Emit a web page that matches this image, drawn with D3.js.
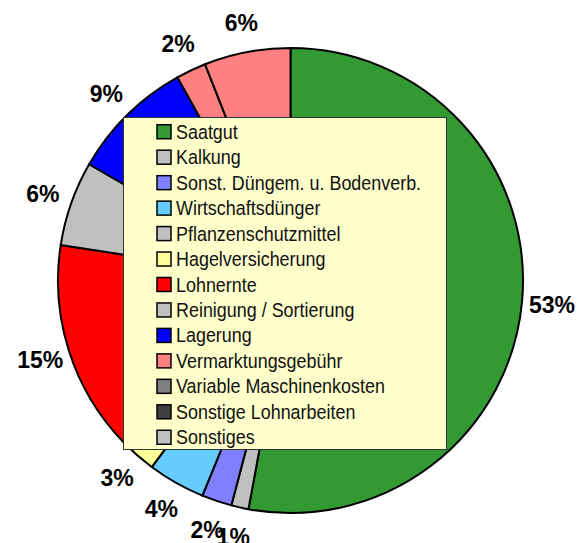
<!DOCTYPE html>
<html>
<head>
<meta charset="utf-8">
<script src="https://cdn.jsdelivr.net/npm/d3@7"></script>
<style>
  html, body { margin: 0; padding: 0; background: #fff; }
  svg { display: block; }
</style>
</head>
<body>
<svg id="chart" width="585" height="543"></svg>
<script>
const categories = [
  "Saatgut", "Kalkung", "Sonst. Düngem. u. Bodenverb.", "Wirtschaftsdünger",
  "Pflanzenschutzmittel", "Hagelversicherung", "Lohnernte", "Reinigung / Sortierung",
  "Lagerung", "Vermarktungsgebühr", "Variable Maschinenkosten",
  "Sonstige Lohnarbeiten", "Sonstiges"
];
const values = [53.0, 1.2, 2.1, 4.0, 0, 2.6, 14.7, 5.9, 8.6, 2.1, 6.0, 0, 0];
const percentLabels = ["53%", "1%", "2%", "4%", "", "3%", "15%", "6%", "9%", "2%", "6%", "", ""];
const legendColors = ["#339933", "#C0C0C0", "#8080FF", "#66CCFF", "#C0C0C0", "#FFFF99",
  "#FF0000", "#C0C0C0", "#0000FF", "#FF8080", "#808080", "#404040", "#C0C0C0"];
const sliceColors = ["#339933", "#C0C0C0", "#8080FF", "#66CCFF", "#C0C0C0", "#FFFF99",
  "#FF0000", "#C0C0C0", "#0000FF", "#FF8080", "#FF8080", "#404040", "#C0C0C0"];

const svg = d3.select("#chart");
const cx = 290.5, cy = 280.5, r = 232.5;

const data = categories.map((c, i) => ({ name: c, value: values[i], label: percentLabels[i], color: sliceColors[i] }));

const pie = d3.pie().value(d => d.value).sort(null);
const arcs = pie(data);
const arc = d3.arc().innerRadius(0).outerRadius(r);
const labelArc = d3.arc().innerRadius(r + 30).outerRadius(r + 30);

const g = svg.append("g").attr("transform", `translate(${cx},${cy})`);

g.selectAll("path.slice")
  .data(arcs.filter(d => d.data.value > 0))
  .join("path")
  .attr("class", "slice")
  .attr("d", arc)
  .attr("fill", d => d.data.color)
  .attr("stroke", "#000")
  .attr("stroke-width", 2)
  .attr("stroke-linejoin", "round");

g.selectAll("text.pct")
  .data(arcs.filter(d => d.data.value > 0 && d.data.label))
  .join("text")
  .attr("class", "pct")
  .attr("transform", d => `translate(${labelArc.centroid(d)})`)
  .attr("text-anchor", "middle")
  .attr("dy", "0.36em")
  .attr("font-family", "Liberation Sans, Arial, sans-serif")
  .attr("font-weight", "bold")
  .attr("font-size", 23)
  .attr("fill", "#000")
  .text(d => d.data.label);

// Legend
const lx = 123, ly = 117, lw = 323, lh = 332;
const legend = svg.append("g");
legend.append("rect")
  .attr("x", lx + 0.5).attr("y", ly + 0.5)
  .attr("width", lw).attr("height", lh)
  .attr("fill", "#FFFFCC")
  .attr("stroke", "#333").attr("stroke-width", 1);

const rowScale = d3.scaleBand().domain(categories).range([ly + 2, ly + lh + 1]).padding(0);

const items = legend.selectAll("g.item")
  .data(categories.map((c, i) => ({ name: c, color: legendColors[i] })))
  .join("g")
  .attr("class", "item")
  .attr("transform", d => `translate(${lx}, ${rowScale(d.name) + rowScale.bandwidth() / 2})`);

items.append("rect")
  .attr("x", 34).attr("y", -7)
  .attr("width", 14).attr("height", 14)
  .attr("fill", d => d.color)
  .attr("stroke", "#000").attr("stroke-width", 1.5);

items.append("text")
  .attr("transform", "translate(53,0) scale(0.92,1)")
  .attr("dy", "0.36em")
  .attr("font-family", "Liberation Sans, Arial, sans-serif")
  .attr("font-size", 19.5)
  .attr("fill", "#111")
  .text(d => d.name);
</script>
</body>
</html>
